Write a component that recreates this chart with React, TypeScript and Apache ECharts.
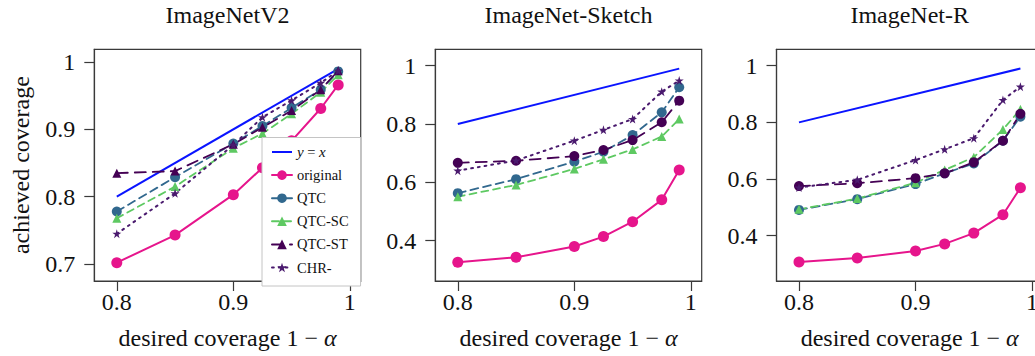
import React, { useEffect, useRef } from 'react';
import * as echarts from 'echarts';

// ---- data ----
const desiredCoverage = [0.8, 0.85, 0.9, 0.925, 0.95, 0.975, 0.99];
const panelTitles = ['ImageNetV2', 'ImageNet-Sketch', 'ImageNet-R'];
const methodNames = ['original', 'QTC', 'QTC-SC', 'QTC-ST', 'CHR-'];
const identityName = 'y = x';

const v2Original = [0.702, 0.743, 0.803, 0.843, 0.883, 0.931, 0.966];
const v2QTC = [0.778, 0.829, 0.879, 0.905, 0.932, 0.959, 0.986];
const v2QTCSC = [0.768, 0.815, 0.872, 0.894, 0.923, 0.955, 0.981];
const v2QTCST = [0.835, 0.838, 0.878, 0.903, 0.928, 0.959, 0.987];
const v2CHR = [0.745, 0.805, 0.877, 0.918, 0.943, 0.969, 0.987];

const sketchOriginal = [0.326, 0.343, 0.38, 0.414, 0.465, 0.54, 0.642];
const sketchQTC = [0.563, 0.611, 0.671, 0.705, 0.762, 0.84, 0.926];
const sketchQTCSC = [0.551, 0.591, 0.646, 0.679, 0.713, 0.757, 0.817];
const sketchQTCST = [0.667, 0.674, 0.69, 0.711, 0.745, 0.806, 0.88];
const sketchCHR = [0.64, 0.675, 0.743, 0.78, 0.817, 0.911, 0.949];

const rOriginal = [0.307, 0.321, 0.346, 0.371, 0.409, 0.474, 0.569];
const rQTC = [0.491, 0.529, 0.582, 0.62, 0.655, 0.735, 0.82];
const rQTCSC = [0.493, 0.531, 0.587, 0.632, 0.677, 0.775, 0.846];
const rQTCST = [0.575, 0.585, 0.603, 0.62, 0.659, 0.735, 0.83];
const rCHR = [0.57, 0.597, 0.667, 0.705, 0.744, 0.879, 0.926];

const panelData = [
  [v2Original, v2QTC, v2QTCSC, v2QTCST, v2CHR],
  [sketchOriginal, sketchQTC, sketchQTCSC, sketchQTCST, sketchCHR],
  [rOriginal, rQTC, rQTCSC, rQTCST, rCHR],
];

const identityX = [0.8, 0.99];
const xTicks = [0.8, 0.9, 1];
const yTicksV2 = [0.7, 0.8, 0.9, 1];
const yTicksOther = [0.4, 0.6, 0.8, 1];
const panelYTicks = [yTicksV2, yTicksOther, yTicksOther];

// ---- layout / style ----
const FONT = 'Liberation Serif';
const STAR =
  'path://M5,0L6.18,3.62L10,3.62L6.91,5.86L8.09,9.51L5,7.27L1.91,9.51L3.09,5.86L0,3.62L3.82,3.62Z';

const gridLefts = [94.3, 435.3, 776.5];
const gridWidth = 266.4;
const gridTop = 49.3;
const gridHeight = 231.7;
const xRange = [0.7807, 1.0093];
const yRanges = [
  [0.6748, 1.0189],
  [0.2618, 1.0562],
  [0.24, 1.0579],
];

const identityStyle = { color: '#0a14ff', width: 2 };
const methodStyles: any[] = [
  { color: '#e6158c', type: 'solid', symbol: 'circle', size: 11, width: 2 },
  { color: '#31688e', type: [8, 5], symbol: 'circle', size: 10, width: 1.8 },
  { color: '#5ec962', type: [7, 5], symbol: 'triangle', size: 9, width: 1.8 },
  { color: '#440154', type: [11, 7], symbol: 'triangle', size: 9, width: 1.8 },
  { color: '#4a1a6e', type: [1.8, 5], symbol: STAR, size: 9, width: 2 },
];

function buildOption() {
  const grid: any[] = [];
  const xAxis: any[] = [];
  const yAxis: any[] = [];
  const series: any[] = [];
  const graphic: any[] = [];

  for (let p = 0; p < 3; p++) {
    grid.push({
      left: gridLefts[p],
      top: gridTop,
      width: gridWidth,
      height: gridHeight,
      show: true,
      borderColor: '#3a3a3a',
      borderWidth: 1.2,
      backgroundColor: 'transparent',
    });
    xAxis.push({
      type: 'value',
      gridIndex: p,
      min: xRange[0],
      max: xRange[1],
      axisLine: { show: true, onZero: false, lineStyle: { color: '#3a3a3a', width: 1.2 } },
      axisTick: { show: true, length: 10, customValues: xTicks, lineStyle: { color: '#3a3a3a', width: 1.2 } },
      axisLabel: {
        show: true,
        customValues: xTicks,
        margin: 9,
        fontFamily: FONT,
        fontSize: 24,
        color: '#111',
      },
      splitLine: { show: false },
      name: 'desired coverage 1 \u2212 {a|\u03b1}',
      nameLocation: 'middle',
      nameGap: 45,
      nameTextStyle: {
        fontFamily: FONT,
        fontSize: 24,
        color: '#111',
        rich: { a: { fontFamily: FONT, fontSize: 24, fontStyle: 'italic', color: '#111' } },
      },
    });
    yAxis.push({
      type: 'value',
      gridIndex: p,
      min: yRanges[p][0],
      max: yRanges[p][1],
      axisLine: { show: true, onZero: false, lineStyle: { color: '#3a3a3a', width: 1.2 } },
      axisTick: { show: true, length: 10, customValues: panelYTicks[p], lineStyle: { color: '#3a3a3a', width: 1.2 } },
      axisLabel: {
        show: true,
        customValues: panelYTicks[p],
        margin: 19,
        fontFamily: FONT,
        fontSize: 24,
        color: '#111',
      },
      splitLine: { show: false },
      ...(p === 0
        ? {
            name: 'achieved coverage',
            nameLocation: 'middle',
            nameGap: 61,
            nameTextStyle: { fontFamily: FONT, fontSize: 24, color: '#111' },
          }
        : {}),
    });

    series.push({
      name: identityName,
      type: 'line',
      xAxisIndex: p,
      yAxisIndex: p,
      data: identityX.map((v) => [v, v]),
      symbol: 'circle',
      showSymbol: false,
      lineStyle: { color: identityStyle.color, width: identityStyle.width },
      itemStyle: { color: identityStyle.color },
      silent: true,
    });

    for (let m = 0; m < methodNames.length; m++) {
      const st = methodStyles[m];
      let symbol = st.symbol;
      let size = st.size;
      if (m === 3 && p > 0) {
        symbol = 'circle';
        size = 10;
      }
      series.push({
        name: methodNames[m],
        type: 'line',
        xAxisIndex: p,
        yAxisIndex: p,
        data: desiredCoverage.map((x, i) => [x, panelData[p][m][i]]),
        symbol,
        symbolSize: size,
        showSymbol: true,
        lineStyle: { color: st.color, width: st.width, type: st.type, cap: 'round' },
        itemStyle: { color: st.color, borderWidth: 0 },
        silent: true,
      });
    }

    graphic.push({
      type: 'text',
      x: gridLefts[p] + gridWidth / 2,
      y: 15,
      style: {
        text: panelTitles[p],
        fontFamily: FONT,
        fontSize: 24,
        fill: '#111',
        align: 'center',
        verticalAlign: 'middle',
      },
    });
  }

  return {
    animation: false,
    backgroundColor: '#ffffff',
    textStyle: { fontFamily: FONT },
    grid,
    xAxis,
    yAxis,
    series,
    graphic,
    legend: {
      show: true,
      orient: 'vertical',
      left: 262,
      top: 137.5,
      padding: [7, 12, 11, 9],
      itemWidth: 20,
      itemHeight: 12,
      itemGap: 8.1,
      backgroundColor: '#ffffff',
      borderColor: '#c4c4c4',
      borderWidth: 1,
      borderRadius: 0,
      selectedMode: false,
      z: 10,
      textStyle: {
        fontFamily: FONT,
        fontSize: 14.5,
        lineHeight: 14,
        color: '#111',
        rich: { i: { fontFamily: FONT, fontSize: 15, fontStyle: 'italic', color: '#111' } },
      },
      formatter: (name: string) => (name === identityName ? '{i|y} = {i|x}' : name),
      data: [
        { name: identityName, itemStyle: { opacity: 0 } },
        ...methodNames.map((n) => ({ name: n })),
      ],
    },
  };
}

export default function App() {
  const ref = useRef<HTMLDivElement>(null);
  useEffect(() => {
    if (!ref.current) return;
    const chart = echarts.init(ref.current, undefined, { renderer: 'svg' });
    chart.setOption(buildOption() as any);
    return () => {
      chart.dispose();
    };
  }, []);
  return (
    <div
      style={{
        position: 'fixed',
        left: 0,
        top: 0,
        width: 1035,
        height: 356,
        overflow: 'hidden',
        background: '#ffffff',
      }}
    >
      <div ref={ref} style={{ width: 1050, height: 356 }} />
    </div>
  );
}
